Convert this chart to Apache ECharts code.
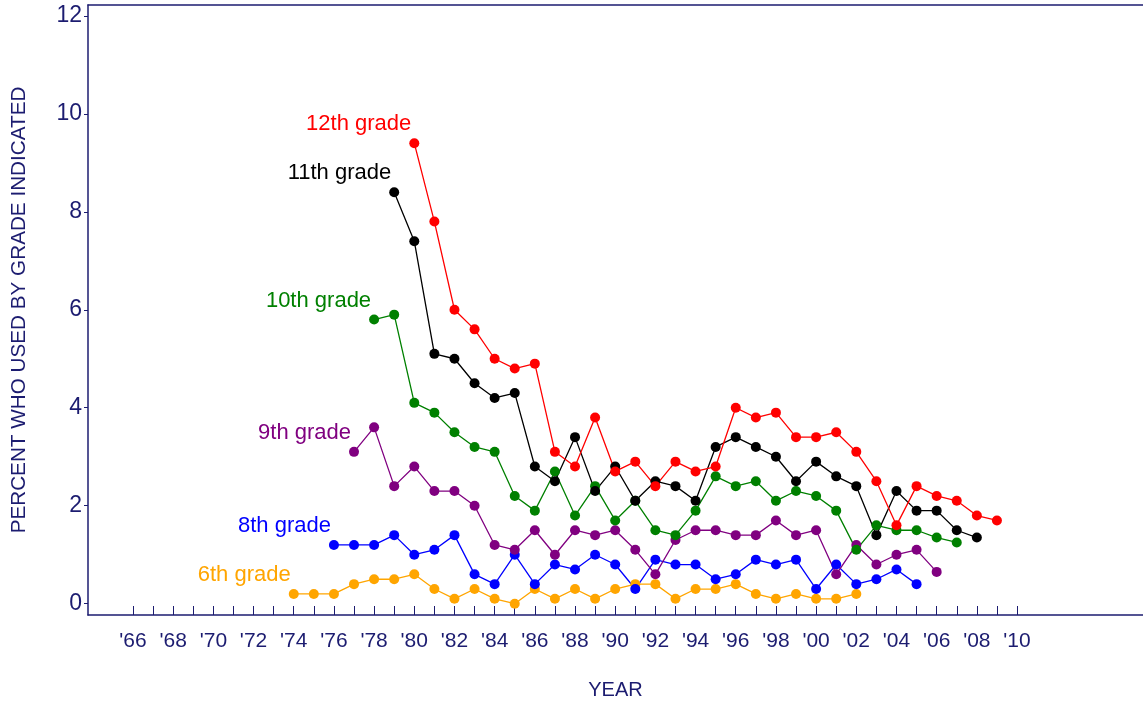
<!DOCTYPE html>
<html>
<head>
<meta charset="utf-8">
<script src="https://cdn.jsdelivr.net/npm/echarts@6/dist/echarts.min.js"></script>
<style>html,body{margin:0;padding:0;background:#fff}#c{width:1143px;height:704px}</style>
</head>
<body>
<div id="c"></div>
<script>
const navy = '#1c1c70';
const years12 = [1980,1981,1982,1983,1984,1985,1986,1987,1988,1989,1990,1991,1992,1993,1994,1995,1996,1997,1998,1999,2000,2001,2002,2003,2004,2005,2006,2007,2008,2009];
const grade12 = [9.4,7.8,6.0,5.6,5.0,4.8,4.9,3.1,2.8,3.8,2.7,2.9,2.4,2.9,2.7,2.8,4.0,3.8,3.9,3.4,3.4,3.5,3.1,2.5,1.6,2.4,2.2,2.1,1.8,1.7];
const years11 = [1979,1980,1981,1982,1983,1984,1985,1986,1987,1988,1989,1990,1991,1992,1993,1994,1995,1996,1997,1998,1999,2000,2001,2002,2003,2004,2005,2006,2007,2008];
const grade11 = [8.4,7.4,5.1,5.0,4.5,4.2,4.3,2.8,2.5,3.4,2.3,2.8,2.1,2.5,2.4,2.1,3.2,3.4,3.2,3.0,2.5,2.9,2.6,2.4,1.4,2.3,1.9,1.9,1.5,1.35];
const years10 = [1978,1979,1980,1981,1982,1983,1984,1985,1986,1987,1988,1989,1990,1991,1992,1993,1994,1995,1996,1997,1998,1999,2000,2001,2002,2003,2004,2005,2006,2007];
const grade10 = [5.8,5.9,4.1,3.9,3.5,3.2,3.1,2.2,1.9,2.7,1.8,2.4,1.7,2.1,1.5,1.4,1.9,2.6,2.4,2.5,2.1,2.3,2.2,1.9,1.1,1.6,1.5,1.5,1.35,1.25];
const years9 = [1977,1978,1979,1980,1981,1982,1983,1984,1985,1986,1987,1988,1989,1990,1991,1992,1993,1994,1995,1996,1997,1998,1999,2000,2001,2002,2003,2004,2005,2006];
const grade9 = [3.1,3.6,2.4,2.8,2.3,2.3,2.0,1.2,1.1,1.5,1.0,1.5,1.4,1.5,1.1,0.6,1.3,1.5,1.5,1.4,1.4,1.7,1.4,1.5,0.6,1.2,0.8,1.0,1.1,0.65];
const years8 = [1976,1977,1978,1979,1980,1981,1982,1983,1984,1985,1986,1987,1988,1989,1990,1991,1992,1993,1994,1995,1996,1997,1998,1999,2000,2001,2002,2003,2004,2005];
const grade8 = [1.2,1.2,1.2,1.4,1.0,1.1,1.4,0.6,0.4,1.0,0.4,0.8,0.7,1.0,0.8,0.3,0.9,0.8,0.8,0.5,0.6,0.9,0.8,0.9,0.3,0.8,0.4,0.5,0.7,0.4];
const years6 = [1974,1975,1976,1977,1978,1979,1980,1981,1982,1983,1984,1985,1986,1987,1988,1989,1990,1991,1992,1993,1994,1995,1996,1997,1998,1999,2000,2001,2002];
const grade6 = [0.2,0.2,0.2,0.4,0.5,0.5,0.6,0.3,0.1,0.3,0.1,0.0,0.3,0.1,0.3,0.1,0.3,0.4,0.4,0.1,0.3,0.3,0.4,0.2,0.1,0.2,0.1,0.1,0.2];
const tickYears = []; for (let y = 1966; y <= 2010; y++) tickYears.push(y);
const labelYears = tickYears.filter(y => y % 2 === 0);
const yTicks = [0,2,4,6,8,10,12];

const seriesDefs = [
  {name:'6th grade', color:'#ffa500', xs:years6, ys:grade6},
  {name:'8th grade', color:'#0000ff', xs:years8, ys:grade8},
  {name:'9th grade', color:'#800080', xs:years9, ys:grade9},
  {name:'10th grade', color:'#008000', xs:years10, ys:grade10},
  {name:'11th grade', color:'#000000', xs:years11, ys:grade11},
  {name:'12th grade', color:'#ff0000', xs:years12, ys:grade12}
];

const chart = echarts.init(document.getElementById('c'), null, {renderer:'canvas'});
chart.setOption({
  animation:false,
  backgroundColor:'#fff',
  grid:{left:88, right:0, top:5, bottom:89, containLabel:false, outerBoundsMode:'none'},
  xAxis:[{
    type:'value', min:1963.76, max:2016.27,
    splitLine:{show:false},
    axisLine:{show:true, onZero:false, lineStyle:{color:navy, width:1.5}},
    axisTick:{show:true, inside:true, length:9, customValues:tickYears, lineStyle:{color:navy, width:1}},
    axisLabel:{show:true, customValues:labelYears, margin:16, color:navy, fontFamily:'Liberation Sans', fontSize:21,
      formatter:v => "'" + String(v).slice(2)},
    name:'YEAR', nameLocation:'middle', nameGap:65,
    nameTextStyle:{color:navy, fontFamily:'Liberation Sans', fontSize:20}
  },{
    type:'value', position:'top', min:1963.76, max:2016.27,
    splitLine:{show:false}, axisTick:{show:false}, axisLabel:{show:false},
    axisLine:{show:true, onZero:false, lineStyle:{color:navy, width:1.5}}
  }],
  yAxis:{
    type:'value', min:-0.23, max:12.22,
    splitLine:{show:false},
    axisLine:{show:true, onZero:false, lineStyle:{color:navy, width:1.5}},
    axisTick:{show:true, inside:false, length:4, customValues:yTicks, lineStyle:{color:navy}},
    axisLabel:{customValues:yTicks, margin:6, color:navy, fontFamily:'Liberation Sans', fontSize:23},
    name:'PERCENT WHO USED BY GRADE INDICATED', nameLocation:'middle', nameGap:58,
    nameTextStyle:{color:navy, fontFamily:'Liberation Sans', fontSize:20.7}
  },
  series: seriesDefs.map(s => ({
    type:'line', name:s.name,
    data: s.xs.map((x,i) => [x, s.ys[i]]),
    symbol:'circle', symbolSize:10,
    lineStyle:{color:s.color, width:1.3},
    itemStyle:{color:s.color},
    label:{show:true, position:'left', distance:0, offset:[2,-19],
      color:s.color, fontFamily:'Liberation Sans', fontSize:22,
      formatter:p => p.dataIndex === 0 ? s.name : ''},
    emphasis:{disabled:true}
  }))
});
</script>
</body>
</html>
